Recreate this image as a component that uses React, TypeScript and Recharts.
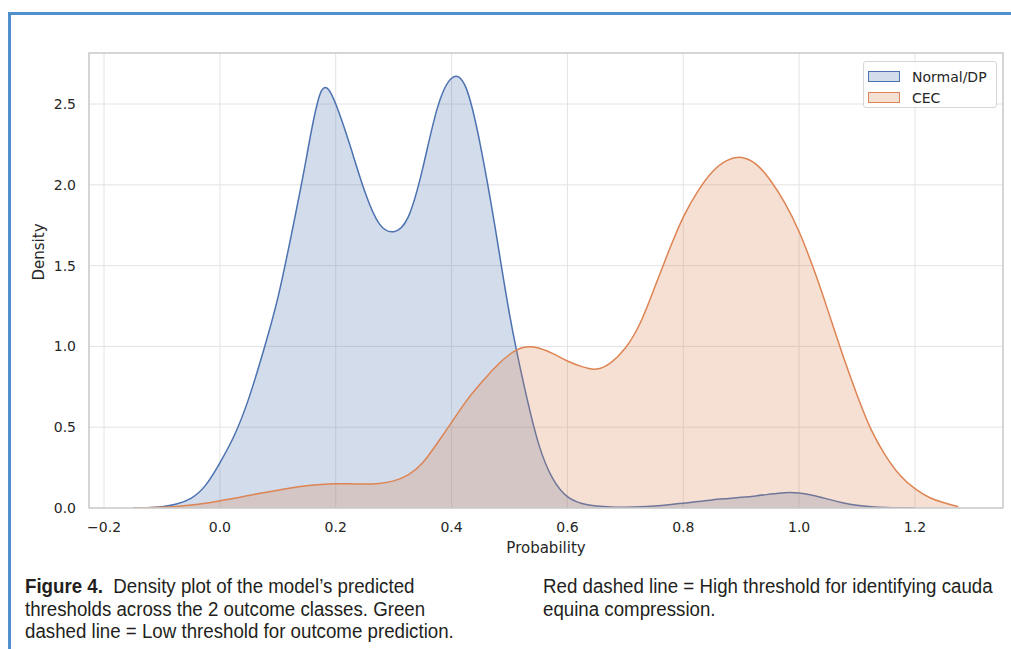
import React from 'react'
import { AreaChart, Area, XAxis, YAxis, CartesianGrid, ReferenceArea } from 'recharts'

// probability grid (x), step 0.025, shared by both density curves
const probability = [
  -0.15, -0.125, -0.1, -0.075, -0.05, -0.025, 0, 0.025, 0.05, 0.075, 0.1, 0.125, 0.15, 0.175, 0.2,
  0.225, 0.25, 0.275, 0.3, 0.325, 0.35, 0.375, 0.4, 0.425, 0.45, 0.475, 0.5, 0.525, 0.55, 0.575,
  0.6, 0.625, 0.65, 0.675, 0.7, 0.725, 0.75, 0.775, 0.8, 0.825, 0.85, 0.875, 0.9, 0.925, 0.95,
  0.975, 1.0, 1.025, 1.05, 1.075, 1.1, 1.125, 1.15, 1.175, 1.2, 1.225, 1.25, 1.275,
]

const normalDensity = [
  0.0, 0.002, 0.008, 0.025, 0.06, 0.14, 0.28, 0.45, 0.68, 0.97, 1.3, 1.72, 2.18, 2.58, 2.5,
  2.24, 1.96, 1.76, 1.71, 1.8, 2.1, 2.47, 2.66, 2.6, 2.24, 1.74, 1.2, 0.76, 0.4, 0.18,
  0.07, 0.028, 0.012, 0.006, 0.005, 0.007, 0.012, 0.02, 0.03, 0.04, 0.05, 0.058, 0.066, 0.075, 0.086,
  0.095, 0.093, 0.078, 0.055, 0.033, 0.017, 0.008, 0.003, 0.001, 0.0, null, null, null,
]

const cecDensity = [
  0.0, 0.002, 0.005, 0.01, 0.018, 0.03, 0.045, 0.06, 0.078, 0.095, 0.11, 0.125, 0.138, 0.146, 0.15,
  0.15, 0.148, 0.152, 0.168, 0.205, 0.28, 0.4, 0.53, 0.66, 0.77, 0.87, 0.95, 0.995, 0.99, 0.955,
  0.91, 0.875, 0.86, 0.9, 0.99, 1.14, 1.36, 1.59, 1.8, 1.96, 2.08, 2.15, 2.17, 2.13, 2.03,
  1.89, 1.71, 1.48, 1.22, 0.95, 0.7, 0.48, 0.32, 0.2, 0.12, 0.065, 0.032, 0.008,
]

const xTicks = [-0.2, 0, 0.2, 0.4, 0.6, 0.8, 1.0, 1.2]
const yTicks = [0, 0.5, 1.0, 1.5, 2.0, 2.5]

const seriesNames = ['Normal/DP', 'CEC']
const seriesColors = ['#4c72b0', '#dd8452']

const captionLeft = [
  'Density plot of the model\u2019s predicted',
  'thresholds across the 2 outcome classes. Green',
  'dashed line = Low threshold for outcome prediction.',
]
const captionRight = ['Red dashed line = High threshold for identifying cauda', 'equina compression.']

const X_DOMAIN: [number, number] = [-0.226, 1.352]
const Y_DOMAIN: [number, number] = [0, 2.816]

const data = probability.map((x, i) => ({ x, normal: normalDensity[i], cec: cecDensity[i] }))

const fmt = (v: number) => {
  const s = Math.abs(v).toFixed(1)
  return v < 0 ? '\u2212' + s : s
}

const FONT = '"DejaVu Sans", sans-serif'
const CAPTION_FONT = '"Liberation Sans", Arial, sans-serif'

const captionStyle: React.CSSProperties = {
  position: 'absolute',
  top: 575,
  fontFamily: CAPTION_FONT,
  fontSize: 20,
  lineHeight: '22.5px',
  color: '#231f20',
  whiteSpace: 'nowrap',
  transform: 'scaleX(0.935)',
  transformOrigin: 'left top',
}

function LegendBox() {
  return (
    <div
      style={{
        position: 'absolute',
        left: 863,
        top: 61,
        width: 134,
        height: 47,
        boxSizing: 'border-box',
        border: '1px solid #d6d6d6',
        borderRadius: 3,
        background: 'rgba(255,255,255,0.85)',
        fontFamily: FONT,
        fontSize: 14,
        color: '#262626',
        padding: '4px 0 0 4px',
      }}
    >
      {seriesNames.map((name, i) => (
        <div key={name} style={{ display: 'flex', alignItems: 'center', height: 21 }}>
          <div
            style={{
              width: 30,
              height: 9,
              border: `1.5px solid ${seriesColors[i]}`,
              background: seriesColors[i] + '40',
              marginRight: 12,
            }}
          />
          <span>{name}</span>
        </div>
      ))}
    </div>
  )
}

export default function App() {
  return (
    <div style={{ position: 'absolute', left: 0, top: 0, width: 1011, height: 649, background: '#fff', overflow: 'hidden' }}>
      <div
        style={{
          position: 'absolute',
          left: 8,
          top: 12,
          right: 0,
          bottom: 0,
          borderTop: '3px solid #4f8fcc',
          borderLeft: '3px solid #4f8fcc',
        }}
      />
      <AreaChart
        width={1011}
        height={649}
        data={data}
        margin={{ top: 53, right: 8, left: 29, bottom: 91 }}
        style={{ position: 'absolute', left: 0, top: 0 }}
      >
        <CartesianGrid stroke="#e3e3e3" strokeWidth={1} />
        <XAxis
          dataKey="x"
          type="number"
          domain={X_DOMAIN}
          ticks={xTicks}
          tickFormatter={fmt}
          allowDataOverflow
          height={50}
          axisLine={false}
          tickLine={false}
          tickMargin={8}
          tick={{ fill: '#262626', fontSize: 14, fontFamily: FONT }}
          label={{ value: 'Probability', position: 'insideBottom', offset: 5, fill: '#262626', fontSize: 15, fontFamily: FONT }}
        />
        <YAxis
          type="number"
          domain={Y_DOMAIN}
          ticks={yTicks}
          tickFormatter={fmt}
          allowDataOverflow
          width={60}
          axisLine={false}
          tickLine={false}
          tickMargin={7}
          tick={{ fill: '#262626', fontSize: 14, fontFamily: FONT }}
          label={{ value: 'Density', angle: -90, position: 'insideLeft', offset: 10, fill: '#262626', fontSize: 15, fontFamily: FONT }}
        />
        <Area
          type="natural"
          dataKey="normal"
          name={seriesNames[0]}
          stroke={seriesColors[0]}
          strokeWidth={1.5}
          fill={seriesColors[0]}
          fillOpacity={0.25}
          isAnimationActive={false}
        />
        <Area
          type="natural"
          dataKey="cec"
          name={seriesNames[1]}
          stroke={seriesColors[1]}
          strokeWidth={1.5}
          fill={seriesColors[1]}
          fillOpacity={0.25}
          isAnimationActive={false}
        />
        <ReferenceArea
          x1={X_DOMAIN[0]}
          x2={X_DOMAIN[1]}
          y1={Y_DOMAIN[0]}
          y2={Y_DOMAIN[1]}
          fill="none"
          stroke="#cccccc"
          strokeWidth={1.5}
        />
      </AreaChart>
      <LegendBox />
      <div style={{ ...captionStyle, left: 25 }}>
        <b>Figure 4.</b>&nbsp; {captionLeft[0]}
        <br />
        {captionLeft[1]}
        <br />
        {captionLeft[2]}
      </div>
      <div style={{ ...captionStyle, left: 543 }}>
        {captionRight[0]}
        <br />
        {captionRight[1]}
      </div>
    </div>
  )
}
